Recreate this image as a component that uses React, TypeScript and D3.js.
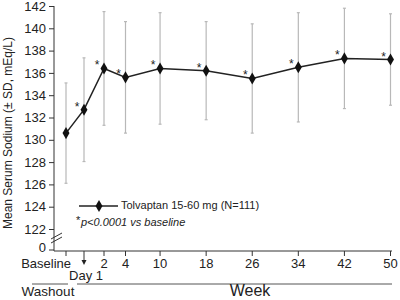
import * as d3 from 'd3';
import React, { useEffect, useRef } from 'react';

// visits: labels, axis position (weeks; baseline and day 1 get slots before week 2)
const visitLabels = ['Baseline', 'Day 1', '2', '4', '10', '18', '26', '34', '42', '50'];
const visitPos = [-2, -1, 2, 4, 10, 18, 26, 34, 42, 50];
const meanSodium = [130.6, 132.7, 136.4, 135.6, 136.4, 136.2, 135.5, 136.5, 137.3, 137.2];
const sdSodium = [4.5, 4.65, 5.1, 5.0, 5.0, 4.4, 4.9, 4.9, 4.5, 4.1];
const significant = [false, true, true, true, true, true, true, true, true, true];
const yTicks = [122, 124, 126, 128, 130, 132, 134, 136, 138, 140, 142];

const FONT = '"Liberation Sans", Arial, sans-serif';

const SodiumChart = () => {
  const ref = useRef<SVGSVGElement>(null);

  useEffect(() => {
    const width = 400, height = 300;
    const axisX = 54, axisY = 251;

    const svg = d3.select(ref.current);
    svg.selectAll('*').remove();
    svg.attr('width', width).attr('height', height);

    // piecewise x: early visits are spread out, weeks 4-50 are linear
    const x = d3.scaleLinear()
      .domain([-2, -1, 2, 4, 50])
      .range([66, 84, 104, 125.5, 390.5]);

    const y = d3.scaleLinear().domain([122, 142]).range([229, 6]);

    const g = svg.append('g').style('font-family', FONT);

    // y axis
    const yAxis = g.append('g')
      .attr('transform', `translate(${axisX},0)`)
      .call(d3.axisLeft(y).tickValues(yTicks).tickSize(5).tickPadding(3).tickFormat(d3.format('d')));
    yAxis.select('.domain').remove();
    yAxis.selectAll('line').attr('stroke', '#333');
    yAxis.selectAll('text').attr('font-size', 13).attr('fill', '#222').style('font-family', FONT);

    g.append('line')
      .attr('x1', axisX).attr('x2', axisX)
      .attr('y1', y(142)).attr('y2', axisY)
      .attr('stroke', '#333');

    // zero tick below the axis break
    g.append('line')
      .attr('x1', axisX - 5).attr('x2', axisX)
      .attr('y1', axisY - 1).attr('y2', axisY - 1)
      .attr('stroke', '#333');
    g.append('text')
      .attr('x', axisX - 8).attr('y', axisY - 2)
      .attr('text-anchor', 'end').attr('dominant-baseline', 'middle')
      .attr('font-size', 13).attr('fill', '#222')
      .text('0');

    // break marks
    [0, 4].forEach(off => {
      g.append('line')
        .attr('x1', axisX - 3).attr('y1', 239 + off)
        .attr('x2', axisX + 8).attr('y2', 233 + off)
        .attr('stroke', '#333');
    });

    // x axis
    g.append('line')
      .attr('x1', axisX).attr('x2', 392)
      .attr('y1', axisY).attr('y2', axisY)
      .attr('stroke', '#333');

    visitPos.forEach((p, i) => {
      if (i === 1) return;
      g.append('line')
        .attr('x1', x(p)).attr('x2', x(p))
        .attr('y1', axisY).attr('y2', axisY + 5)
        .attr('stroke', '#333');
      const lbl = g.append('text')
        .attr('y', 265)
        .attr('dominant-baseline', 'middle')
        .attr('font-size', 13).attr('fill', '#222')
        .text(visitLabels[i]);
      if (i === 0) lbl.attr('x', x(p) + 5).attr('text-anchor', 'end');
      else lbl.attr('x', x(p)).attr('text-anchor', 'middle');
    });

    // day 1 arrow
    const d1 = x(visitPos[1]);
    g.append('line')
      .attr('x1', d1).attr('x2', d1)
      .attr('y1', axisY).attr('y2', axisY + 10)
      .attr('stroke', '#333');
    g.append('path')
      .attr('d', `M${d1 - 2.5},${axisY + 9}L${d1 + 2.5},${axisY + 9}L${d1},${axisY + 14}Z`)
      .attr('fill', '#222');
    g.append('text')
      .attr('x', d1 + 2).attr('y', 277)
      .attr('text-anchor', 'middle').attr('dominant-baseline', 'middle')
      .attr('font-size', 13).attr('fill', '#222')
      .text(visitLabels[1]);

    // period brackets
    g.append('line').attr('x1', 32).attr('x2', 68).attr('y1', 284).attr('y2', 284).attr('stroke', '#555');
    g.append('line').attr('x1', 77).attr('x2', 392).attr('y1', 284).attr('y2', 284).attr('stroke', '#555');
    g.append('text')
      .attr('x', 48).attr('y', 292)
      .attr('text-anchor', 'middle').attr('dominant-baseline', 'middle')
      .attr('font-size', 13.5).attr('fill', '#222')
      .text('Washout');
    g.append('text')
      .attr('x', 250).attr('y', 292)
      .attr('text-anchor', 'middle').attr('dominant-baseline', 'middle')
      .attr('font-size', 16).attr('fill', '#222')
      .text('Week');

    // y title
    g.append('text')
      .attr('transform', `translate(9,133) rotate(-90)`)
      .attr('text-anchor', 'middle').attr('dominant-baseline', 'middle')
      .attr('font-size', 12).attr('fill', '#222')
      .text('Mean Serum Sodium (\u00b1 SD, mEq/L)');

    // error bars
    const data = visitPos.map((p, i) => ({ p, m: meanSodium[i], sd: sdSodium[i], sig: significant[i] }));
    const bars = g.append('g').attr('stroke', '#b8b8b8').attr('stroke-width', 1.2);
    data.forEach(d => {
      const cx = x(d.p);
      bars.append('line').attr('x1', cx).attr('x2', cx).attr('y1', y(d.m + d.sd)).attr('y2', y(d.m - d.sd));
      bars.append('line').attr('x1', cx - 1.5).attr('x2', cx + 1.5).attr('y1', y(d.m + d.sd)).attr('y2', y(d.m + d.sd));
      bars.append('line').attr('x1', cx - 1.5).attr('x2', cx + 1.5).attr('y1', y(d.m - d.sd)).attr('y2', y(d.m - d.sd));
    });

    // mean line
    const line = d3.line<typeof data[number]>().x(d => x(d.p)).y(d => y(d.m));
    g.append('path')
      .datum(data)
      .attr('d', line)
      .attr('fill', 'none')
      .attr('stroke', '#222')
      .attr('stroke-width', 1.5);

    const diamond = d3.symbol().type(d3.symbolDiamond).size(42);
    g.selectAll('.pt')
      .data(data)
      .join('path')
      .attr('transform', d => `translate(${x(d.p)},${y(d.m)})`)
      .attr('d', diamond)
      .attr('fill', '#111');

    // significance stars
    g.selectAll('.star')
      .data(data.filter(d => d.sig))
      .join('text')
      .attr('x', d => x(d.p) - 7)
      .attr('y', d => y(d.m) + 1)
      .attr('text-anchor', 'middle')
      .attr('font-size', 12).attr('fill', '#222')
      .text('*');

    // legend
    g.append('line')
      .attr('x1', 79).attr('x2', 118).attr('y1', 206).attr('y2', 206)
      .attr('stroke', '#222').attr('stroke-width', 1.5);
    g.append('path')
      .attr('transform', 'translate(99,206)')
      .attr('d', diamond)
      .attr('fill', '#111');
    g.append('text')
      .attr('x', 121).attr('y', 206)
      .attr('dominant-baseline', 'middle')
      .attr('font-size', 11).attr('fill', '#222')
      .text('Tolvaptan 15-60 mg (N=111)');
    g.append('text')
      .attr('x', 76).attr('y', 224)
      .attr('font-size', 11).attr('fill', '#222')
      .text('*');
    g.append('text')
      .attr('x', 81).attr('y', 223)
      .attr('dominant-baseline', 'middle')
      .attr('font-size', 11).attr('font-style', 'italic').attr('fill', '#222')
      .text('p<0.0001 vs baseline');
  }, []);

  return <svg ref={ref} style={{ position: 'absolute', left: 0, top: 0, background: '#fff' }} />;
};

export default function App() {
  return <SodiumChart />;
}
